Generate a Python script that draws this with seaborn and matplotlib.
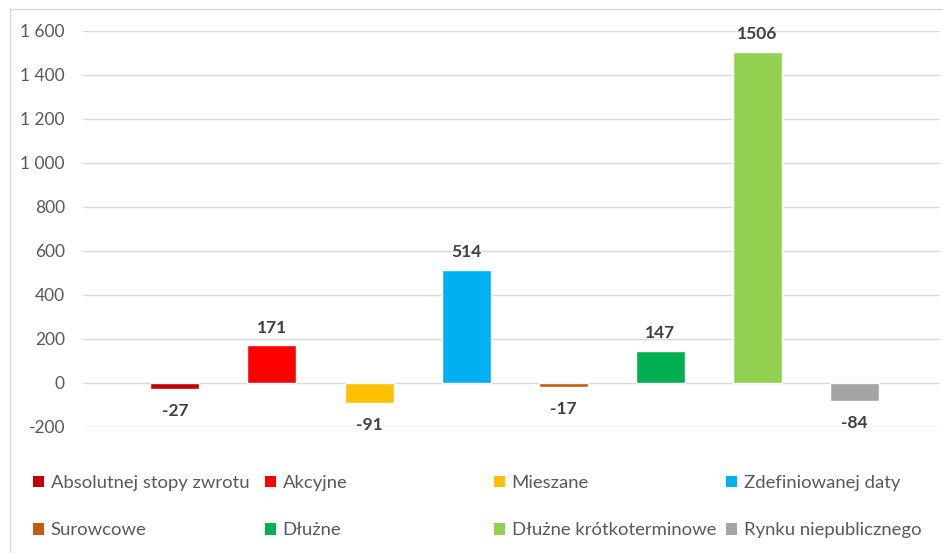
import pandas as pd
import matplotlib.pyplot as plt
import seaborn as sns
from matplotlib.patches import Patch, Rectangle
from matplotlib.ticker import FuncFormatter

categories = ["Absolutnej stopy zwrotu", "Akcyjne", "Mieszane", "Zdefiniowanej daty",
              "Surowcowe", "Dłużne", "Dłużne krótkoterminowe", "Rynku niepublicznego"]
values = [-27, 171, -91, 514, -17, 147, 1506, -84]
colors = ["#C00000", "#FF0000", "#FFC000", "#00B0F0",
          "#C55A11", "#00B050", "#92D050", "#A5A5A5"]
y_ticks = [-200, 0, 200, 400, 600, 800, 1000, 1200, 1400, 1600]

sns.set_style("white")
plt.rcParams["font.family"] = ["Lato", "DejaVu Sans"]

df = pd.DataFrame({"kategoria": categories, "wartosc": values})

fig = plt.figure(figsize=(9.43, 5.53), dpi=100)
ax = fig.add_axes([0.088, 0.228, 0.909, 0.716])

sns.barplot(data=df, x="kategoria", y="wartosc", hue="kategoria",
            palette=colors, dodge=False, width=0.505, legend=False,
            saturation=1, ax=ax)

for c, v in zip(ax.containers, values):
    ax.bar_label(c, fmt="%.0f", padding=7 if v > 0 else 10, fontsize=12.5,
                 fontweight="bold", color="#404040", clip_on=False)

ax.set_ylim(-200, 1600)
ax.set_xlim(-0.948, 7.887)
ax.set_yticks(y_ticks)
ax.yaxis.set_major_formatter(FuncFormatter(lambda v, p: f"{int(v):,}".replace(",", " ")))
ax.tick_params(axis="y", labelsize=12.5, labelcolor="#595959", length=0, pad=13)
ax.set_xticks([])
ax.set_xlabel("")
ax.set_ylabel("")
ax.grid(axis="y", color="#D9D9D9", linewidth=1)
ax.set_axisbelow(True)
sns.despine(ax=ax, left=True, bottom=True)

# legend: 2 rows x 4 columns, equal column spacing like in Excel
col_x = [33, 265, 494, 726]
for i, x in enumerate(col_x):
    idx = [i, i + 4]
    handles = [Patch(facecolor=colors[j], edgecolor="none") for j in idx]
    leg = fig.legend(handles, [categories[j] for j in idx], loc="upper left",
                     bbox_to_anchor=(x / 943, 1 - 475 / 553), frameon=False,
                     fontsize=13.3, labelcolor="#595959", borderpad=0,
                     borderaxespad=0, handlelength=0.6, handleheight=0.6,
                     handletextpad=0.35, labelspacing=1.7)

fig.patches.append(Rectangle((0.011, -0.01), 1.0, 0.993, transform=fig.transFigure,
                             fill=False, edgecolor="#D9D9D9", linewidth=1))

fig.savefig("out.png", dpi=100)
